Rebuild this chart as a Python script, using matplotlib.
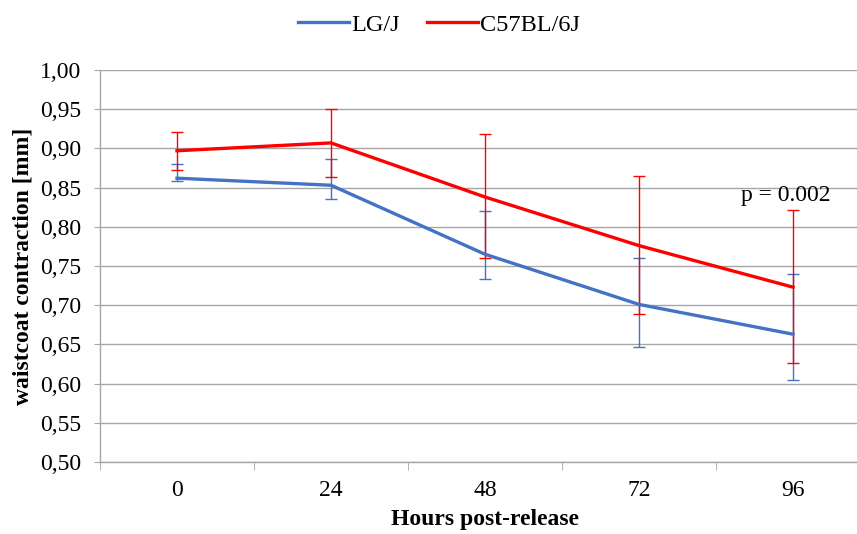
import matplotlib

matplotlib.use("Agg")
import matplotlib.pyplot as plt
from matplotlib.ticker import FixedLocator, FuncFormatter

hours = ["0", "24", "48", "72", "96"]

lgj_mean = [0.862, 0.853, 0.765, 0.701, 0.663]
lgj_upper = [0.880, 0.886, 0.820, 0.760, 0.740]
lgj_lower = [0.859, 0.835, 0.733, 0.647, 0.605]

c57_mean = [0.897, 0.907, 0.838, 0.776, 0.723]
c57_upper = [0.921, 0.950, 0.918, 0.865, 0.821]
c57_lower = [0.872, 0.863, 0.760, 0.689, 0.626]

y_ticks = [0.50, 0.55, 0.60, 0.65, 0.70, 0.75, 0.80, 0.85, 0.90, 0.95, 1.00]

BLUE = "#4472C4"
RED = "#FF0000"
GRID = "#A6A6A6"
SERIF = "Liberation Serif"
FS = 17

fig = plt.figure(figsize=(8.57, 5.34), dpi=100)
W, H = 857, 534
ax = fig.add_axes([100 / W, 1 - 462 / H, 770 / W, 392 / H])

x = list(range(len(hours)))


def draw(mean, lo, hi, color, label):
    yerr = [[m - l for m, l in zip(mean, lo)], [h - m for m, h in zip(mean, hi)]]
    ax.errorbar(x, mean, yerr=yerr, fmt="none", ecolor=color, elinewidth=1.0,
                capsize=4, capthick=1.0, zorder=3)
    ax.plot(x, mean, color=color, lw=2.4, label=label, zorder=4,
            solid_joinstyle="round")


draw(lgj_mean, lgj_lower, lgj_upper, BLUE, "LG/J")
draw(c57_mean, c57_lower, c57_upper, RED, "C57BL/6J")

ax.set_xlim(-0.5, len(hours) - 0.5)
ax.set_ylim(0.50, 1.00)
ax.yaxis.set_major_locator(FixedLocator(y_ticks))
ax.yaxis.set_major_formatter(FuncFormatter(lambda v, p: f"{v:.2f}".replace(".", ",")))
ax.grid(axis="y", color=GRID, lw=1.0, zorder=0)
ax.set_axisbelow(True)

ax.set_xticks(x)
ax.set_xticklabels(hours)
ax.tick_params(axis="x", which="major", length=0, pad=13)
ax.set_xticks([i + 0.5 for i in range(-1, len(hours))], minor=True)
ax.tick_params(axis="x", which="minor", length=6, color=GRID, direction="out")
ax.tick_params(axis="y", length=4.5, color=GRID, direction="out", pad=9)

for s in ["top", "right"]:
    ax.spines[s].set_visible(False)
for s in ["left", "bottom"]:
    ax.spines[s].set_color(GRID)
    ax.spines[s].set_linewidth(1.0)

for lab in ax.get_xticklabels() + ax.get_yticklabels():
    lab.set_fontfamily(SERIF)
    lab.set_fontsize(FS)

ax.set_xlabel("Hours post-release", fontfamily=SERIF, fontsize=FS,
              fontweight="bold", labelpad=6)
ax.set_ylabel("waistcoat contraction [mm]", fontfamily=SERIF, fontsize=FS,
              fontweight="bold", labelpad=5)

ax.text(3.95, 0.840, "p = 0.002", fontfamily=SERIF, fontsize=FS,
        ha="center", va="center")

leg = fig.legend(loc="center", bbox_to_anchor=(439 / W, 1 - 25 / H), ncol=2,
                 frameon=False, prop={"family": SERIF, "size": 17.5},
                 handlelength=2.1, handletextpad=0.1, columnspacing=1.1)

fig.savefig("out.png", dpi=100)
